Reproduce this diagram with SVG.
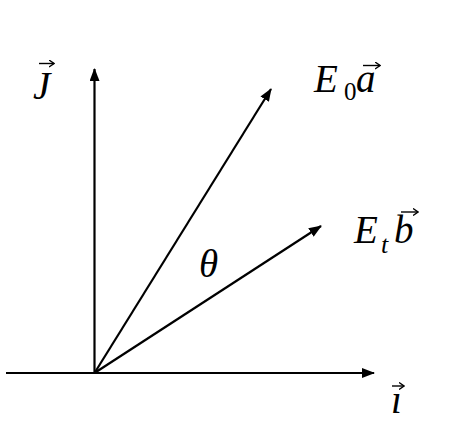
<svg xmlns="http://www.w3.org/2000/svg" width="453" height="436" viewBox="0 0 453 436">
<defs>
<marker id="ah" viewBox="0 0 13 10" refX="12" refY="5" markerWidth="13" markerHeight="10" markerUnits="userSpaceOnUse" orient="auto">
<path d="M0,0 L13,5 L0,10 Z" fill="#000"/>
</marker>
<marker id="vh" viewBox="0 0 6 8" refX="5.5" refY="4" markerWidth="6" markerHeight="8" markerUnits="userSpaceOnUse" orient="auto">
<path d="M0.5,0.5 L5.5,4 L0.5,7.5" fill="none" stroke="#000" stroke-width="1.4"/>
</marker>
<style>
.ax{stroke:#000;stroke-width:2.2;fill:none}
.vec{stroke:#000;stroke-width:1.4;fill:none}
.lb{font-family:"Liberation Serif","DejaVu Serif",serif;font-style:italic;font-size:39px;fill:#000}
.up{font-style:normal;font-size:25px}
.sub{font-size:26px}
</style>
</defs>
<rect width="453" height="436" fill="#fff"/>
<g id="connectors">
<line class="ax" x1="6" y1="373" x2="374" y2="373" marker-end="url(#ah)"/>
<line class="ax" x1="94.5" y1="373" x2="94.5" y2="69" marker-end="url(#ah)"/>
<line class="ax" x1="94.5" y1="373" x2="271" y2="89" marker-end="url(#ah)"/>
<line class="ax" x1="94.5" y1="373" x2="321" y2="226" marker-end="url(#ah)"/>
</g>
<g id="label-j">
<text class="lb" x="33" y="99">J</text>
<line class="vec" x1="39" y1="63.5" x2="54" y2="63.5" marker-end="url(#vh)"/>
</g>
<g id="label-e0a">
<text class="lb"><tspan x="314" y="92">E</tspan><tspan class="up" x="344" y="100">0</tspan><tspan x="356" y="92">a</tspan></text>
<line class="vec" x1="363" y1="65.5" x2="380" y2="65.5" marker-end="url(#vh)"/>
</g>
<g id="label-etb">
<text class="lb"><tspan x="354" y="243">E</tspan><tspan class="sub" x="381" y="253">t</tspan><tspan x="394" y="243">b</tspan></text>
<line class="vec" x1="401" y1="212" x2="418" y2="212" marker-end="url(#vh)"/>
</g>
<g id="label-theta">
<text class="lb" x="199" y="277" font-size="38">θ</text>
</g>
<g id="label-i">
<text class="lb" x="391" y="413">ı</text>
<line class="vec" x1="392" y1="386" x2="404" y2="386" marker-end="url(#vh)"/>
</g>
</svg>
